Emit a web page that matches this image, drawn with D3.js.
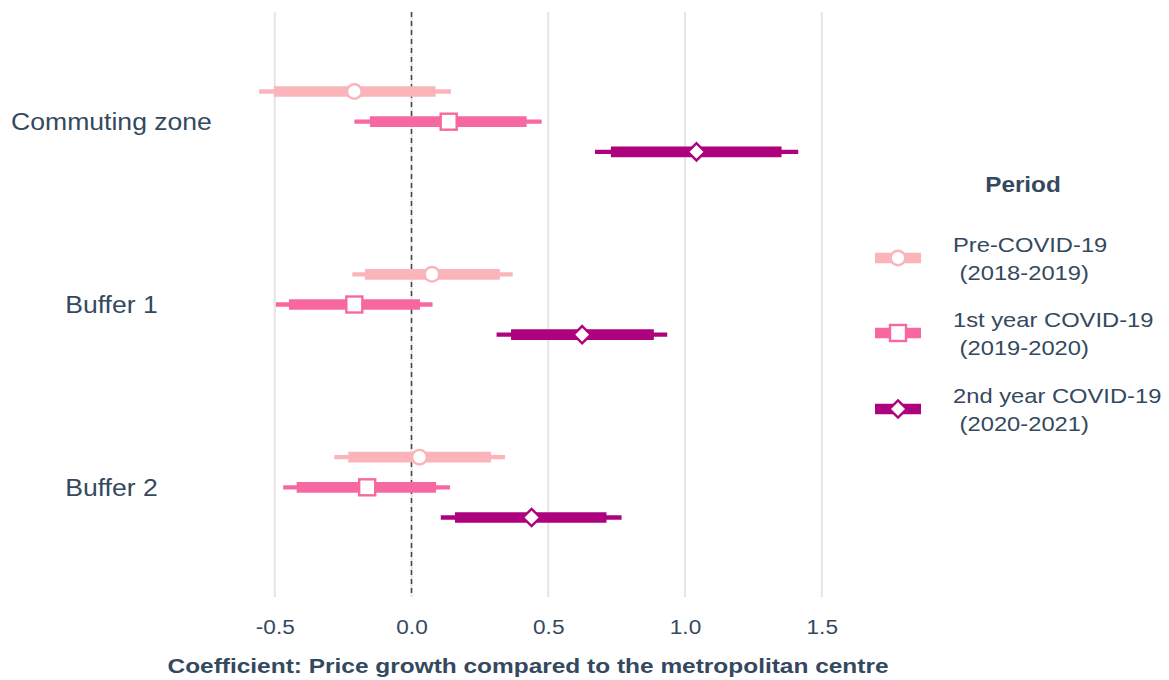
<!DOCTYPE html>
<html><head><meta charset="utf-8">
<script src="https://cdn.jsdelivr.net/npm/d3@7"></script>
<style>body{margin:0;background:#fff;} svg{display:block;}</style>
</head><body>
<svg id="chart" width="1169" height="680"></svg>
<script>
const categories = ["Commuting zone", "Buffer 1", "Buffer 2"];
const periods = ["Pre-COVID-19\n (2018-2019)", "1st year COVID-19\n (2019-2020)", "2nd year COVID-19\n (2020-2021)"];
const periodColors = ["#fbb4b9", "#f768a1", "#ae017e"];
const periodShapes = ["circle", "square", "diamond"];
// estimates per category, per period
const estimates = [[-0.209, 0.136, 1.042], [0.075, -0.209, 0.624], [0.029, -0.162, 0.439]];
const innerLow  = [[-0.503, -0.152, 0.729], [-0.170, -0.448, 0.364], [-0.231, -0.420, 0.159]];
const innerHigh = [[0.088, 0.421, 1.353], [0.323, 0.031, 0.886], [0.291, 0.090, 0.713]];
const outerLow  = [[-0.557, -0.209, 0.671], [-0.216, -0.496, 0.311], [-0.282, -0.469, 0.107]];
const outerHigh = [[0.144, 0.476, 1.414], [0.370, 0.077, 0.935], [0.342, 0.141, 0.768]];
const xTicks = [-0.5, 0, 0.5, 1.0, 1.5];
const xTitle = "Coefficient: Price growth compared to the metropolitan centre";
const legendTitle = "Period";

const svg = d3.select("#chart");
const textColor = "#34495e";
const font = "Liberation Sans, Arial, sans-serif";
const stretch = 1.13;
function widen(sel) {
  sel.each(function() {
    const w = this.getComputedTextLength();
    d3.select(this).attr("textLength", w * stretch).attr("lengthAdjust", "spacingAndGlyphs");
  });
}

const x = d3.scaleLinear().domain([0, 1]).range([411.5, 685]);
// discrete positions with ggplot-like expansion
const yCat = d3.scaleLinear().domain([0.4, 3.6]).range([12, 597]);
const dodge = 0.165;
const yOf = (ci, pi) => yCat(ci + 1 + (pi - 1) * dodge);

// grid lines
svg.append("g").selectAll("line").data(xTicks).join("line")
  .attr("x1", d => x(d)).attr("x2", d => x(d))
  .attr("y1", 12).attr("y2", 597)
  .attr("stroke", "#e5e5e5").attr("stroke-width", 2);

// zero line
svg.append("line").attr("x1", x(0)).attr("x2", x(0)).attr("y1", 12).attr("y2", 597)
  .attr("stroke", "#444").attr("stroke-width", 1.5).attr("stroke-dasharray", "5,4");

// x axis tick labels
const xAxis = d3.axisBottom(x).tickValues(xTicks).tickFormat(d => d.toFixed(1)).tickSize(0).tickPadding(0);
const gx = svg.append("g").attr("transform", "translate(0,620)").call(xAxis);
gx.select(".domain").remove();
gx.selectAll("text").attr("font-family", font).attr("font-size", 20).attr("fill", textColor).attr("dy", "0.71em").call(widen);

svg.append("text").attr("x", 528).attr("y", 673).attr("text-anchor", "middle")
  .attr("font-family", font).attr("font-size", 20).attr("font-weight", "bold")
  .attr("fill", textColor).attr("textLength", 721).attr("lengthAdjust", "spacingAndGlyphs").text(xTitle);

// y labels
svg.append("g").selectAll("text").data(categories).join("text")
  .attr("x", 111.5).attr("y", (d, i) => yCat(i + 1)).attr("dy", "0.36em")
  .attr("text-anchor", "middle").attr("font-family", font).attr("font-size", 23.5)
  .attr("fill", textColor).text(d => d).call(widen);

function drawShape(g, shape, cx, cy, color) {
  if (shape === "circle") {
    g.append("circle").attr("cx", cx).attr("cy", cy).attr("r", 7.3)
      .attr("fill", "#fff").attr("stroke", color).attr("stroke-width", 2.4);
  } else if (shape === "square") {
    g.append("rect").attr("x", cx - 8).attr("y", cy - 8).attr("width", 16).attr("height", 16)
      .attr("fill", "#fff").attr("stroke", color).attr("stroke-width", 2.4);
  } else {
    const s = 8.6;
    g.append("path").attr("d", `M${cx},${cy - s}L${cx + s},${cy}L${cx},${cy + s}L${cx - s},${cy}Z`)
      .attr("fill", "#fff").attr("stroke", color).attr("stroke-width", 2.4);
  }
}

const marks = svg.append("g");
categories.forEach((c, ci) => {
  periods.forEach((p, pi) => {
    const y = yOf(ci, pi);
    const col = periodColors[pi];
    marks.append("line").attr("x1", x(outerLow[ci][pi])).attr("x2", x(outerHigh[ci][pi]))
      .attr("y1", y).attr("y2", y).attr("stroke", col).attr("stroke-width", 4.3);
    marks.append("line").attr("x1", x(innerLow[ci][pi])).attr("x2", x(innerHigh[ci][pi]))
      .attr("y1", y).attr("y2", y).attr("stroke", col).attr("stroke-width", 10.7);
    drawShape(marks, periodShapes[pi], x(estimates[ci][pi]), y, col);
  });
});

// legend
const lg = svg.append("g");
lg.append("text").attr("x", 1023).attr("y", 192).attr("text-anchor", "middle")
  .attr("font-family", font).attr("font-size", 21.5).attr("font-weight", "bold")
  .attr("fill", textColor).text(legendTitle).call(widen);
const legendY = [258, 333, 409];
periods.forEach((p, pi) => {
  const y = legendY[pi];
  const col = periodColors[pi];
  lg.append("line").attr("x1", 875).attr("x2", 921).attr("y1", y).attr("y2", y)
    .attr("stroke", col).attr("stroke-width", 10.7);
  drawShape(lg, periodShapes[pi], 898, y, col);
  p.split("\n").forEach((ln, li) => {
    lg.append("text").attr("x", 953).attr("y", y - 6 + li * 28)
      .attr("xml:space", "preserve").style("white-space", "pre")
      .attr("font-family", font).attr("font-size", 21).attr("fill", textColor)
      .text(ln).call(widen);
  });
});
</script>
</body></html>
